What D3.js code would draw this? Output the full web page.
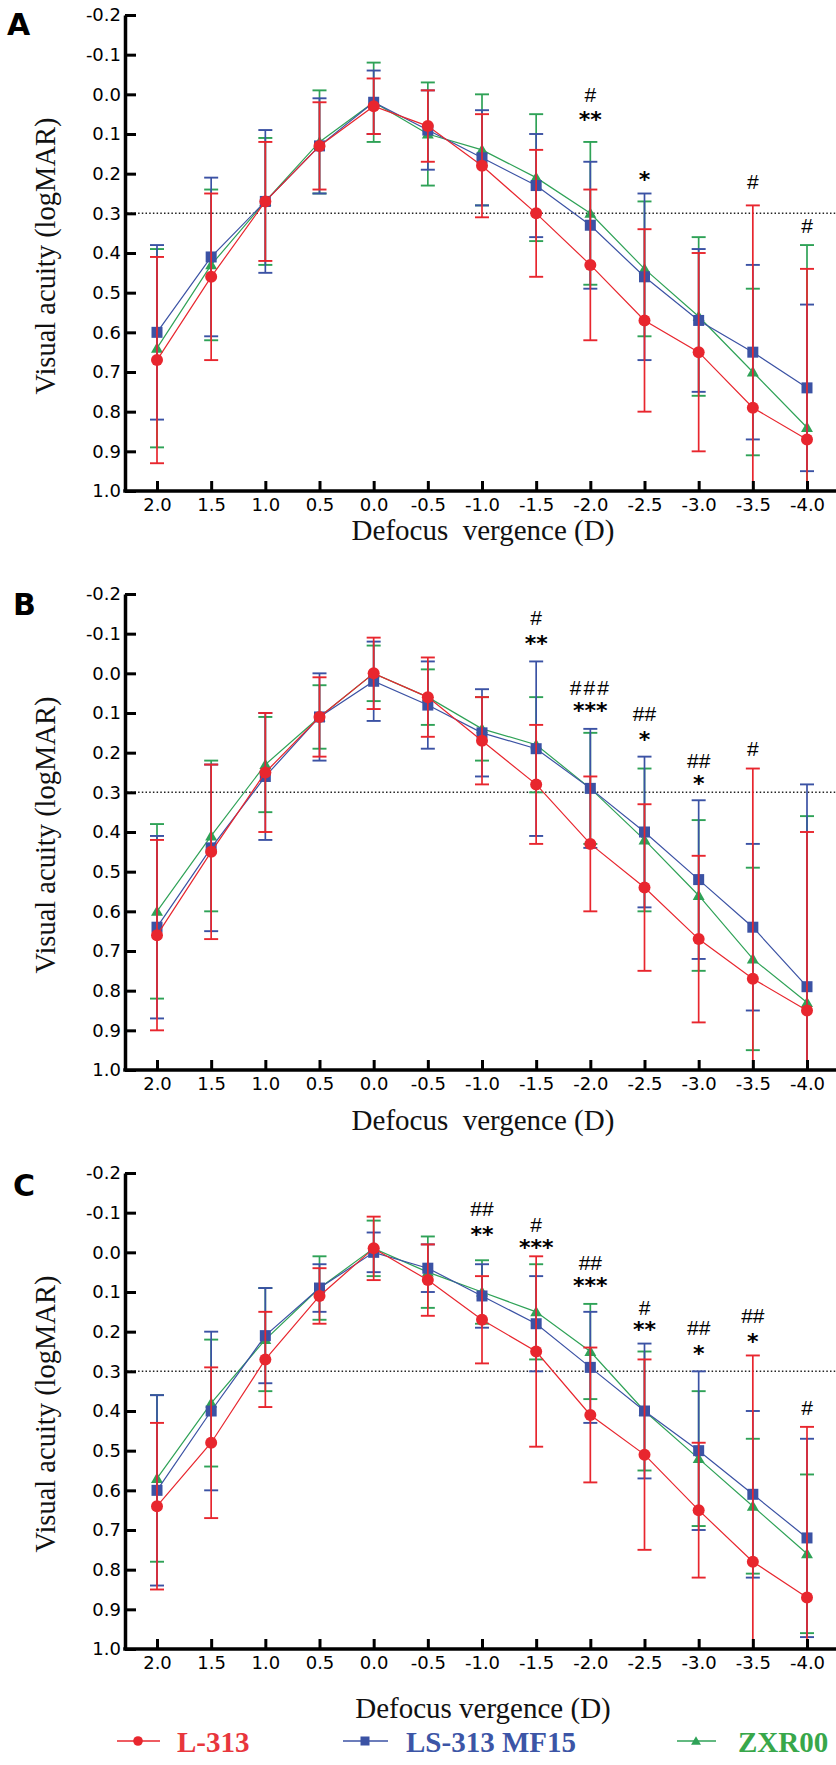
<!DOCTYPE html>
<html><head><meta charset="utf-8">
<script src="https://cdn.jsdelivr.net/npm/d3@7"></script>
<style>body{margin:0;background:#fff} svg{display:block}</style>
</head><body>
<svg id="chart" width="836" height="1765"></svg>
<script>
// ---------------- DATA ----------------
const defocus = ["2.0","1.5","1.0","0.5","0.0","-0.5","-1.0","-1.5","-2.0","-2.5","-3.0","-3.5","-4.0"];
const yTickValues = [-0.2,-0.1,0.0,0.1,0.2,0.3,0.4,0.5,0.6,0.7,0.8,0.9,1.0];
const seriesNames = ["ZXR00","LS-313 MF15","L-313"]; // drawing order (red on top)
const panelLetters = ["A","B","C"];
const xTitle = "Defocus vergence (D)";
const yTitle = "Visual acuity (logMAR)";
const threshold = 0.3;

// Panel A
const L313_A_mean = [0.67,0.46,0.27,0.13,0.03,0.08,0.18,0.30,0.43,0.57,0.65,0.79,0.87];
const L313_A_sd   = [0.26,0.21,0.15,0.11,0.07,0.09,0.13,0.16,0.19,0.23,0.25,0.51,0.43];
const MF15_A_mean = [0.60,0.41,0.27,0.13,0.02,0.09,0.16,0.23,0.33,0.46,0.57,0.65,0.74];
const MF15_A_sd   = [0.22,0.20,0.18,0.12,0.08,0.10,0.12,0.13,0.16,0.21,0.18,0.22,0.21];
const ZXR_A_mean  = [0.64,0.43,0.27,0.12,0.02,0.10,0.14,0.21,0.30,0.44,0.56,0.70,0.84];
const ZXR_A_sd    = [0.25,0.19,0.16,0.13,0.10,0.13,0.14,0.16,0.18,0.17,0.20,0.21,0.46];
const sigA_x    = ["-2.0","-2.0","-2.5","-3.5","-4.0"];
const sigA_text = ["#","**","*","#","#"];
const sigA_y    = [0.00,0.05,0.20,0.22,0.33];

// Panel B
const L313_B_mean = [0.66,0.45,0.25,0.11,0.00,0.06,0.17,0.28,0.43,0.54,0.67,0.77,0.85];
const L313_B_sd   = [0.24,0.22,0.15,0.10,0.09,0.10,0.11,0.15,0.17,0.21,0.21,0.53,0.45];
const MF15_B_mean = [0.64,0.44,0.26,0.11,0.02,0.08,0.15,0.19,0.29,0.40,0.52,0.64,0.79];
const MF15_B_sd   = [0.23,0.21,0.16,0.11,0.10,0.11,0.11,0.22,0.15,0.19,0.20,0.21,0.51];
const ZXR_B_mean  = [0.60,0.41,0.23,0.11,0.00,0.06,0.14,0.18,0.29,0.42,0.56,0.72,0.83];
const ZXR_B_sd    = [0.22,0.19,0.12,0.08,0.07,0.07,0.08,0.12,0.14,0.18,0.19,0.23,0.47];
const sigB_x    = ["-1.5","-1.5","-2.0","-2.0","-2.5","-2.5","-3.0","-3.0","-3.5"];
const sigB_text = ["#","**","###","***","##","*","##","*","#"];
const sigB_y    = [-0.14,-0.09,0.036,0.08,0.10,0.153,0.22,0.264,0.19];

// Panel C
const L313_C_mean = [0.64,0.48,0.27,0.11,-0.01,0.07,0.17,0.25,0.41,0.51,0.65,0.78,0.87];
const L313_C_sd   = [0.21,0.19,0.12,0.07,0.08,0.09,0.11,0.24,0.17,0.24,0.17,0.52,0.43];
const MF15_C_mean = [0.60,0.40,0.21,0.09,0.00,0.04,0.11,0.18,0.29,0.40,0.50,0.61,0.72];
const MF15_C_sd   = [0.24,0.20,0.12,0.06,0.05,0.06,0.08,0.12,0.14,0.17,0.20,0.21,0.25];
const ZXR_C_mean  = [0.57,0.38,0.22,0.09,-0.01,0.05,0.10,0.15,0.25,0.40,0.52,0.64,0.76];
const ZXR_C_sd    = [0.21,0.16,0.13,0.08,0.07,0.09,0.08,0.12,0.12,0.15,0.17,0.17,0.20];
const sigC_x    = ["-1.0","-1.0","-1.5","-1.5","-2.0","-2.0","-2.5","-2.5","-3.0","-3.0","-3.5","-3.5","-4.0"];
const sigC_text = ["##","**","#","***","##","***","#","**","##","*","##","*","#"];
const sigC_y    = [-0.11,-0.06,-0.07,-0.025,0.025,0.07,0.14,0.18,0.19,0.24,0.16,0.21,0.39];

// ---------------- STYLE / LAYOUT ----------------
const colorOf = {"L-313":"#e8262e","LS-313 MF15":"#3b52a4","ZXR00":"#2fa257"};
const legendColorOf = {"L-313":"#e8363c","LS-313 MF15":"#3c55a6","ZXR00":"#38a74a"};
const layout = [
  {top:15,  bottom:491,  letterY:35,   titleY:540,  spaced:true},
  {top:594, bottom:1070, letterY:615,  titleY:1130, spaced:true},
  {top:1173,bottom:1649, letterY:1196, titleY:1718, spaced:false}
];
const panelsData = [
  {means:{"L-313":L313_A_mean,"LS-313 MF15":MF15_A_mean,"ZXR00":ZXR_A_mean},
   sds:{"L-313":L313_A_sd,"LS-313 MF15":MF15_A_sd,"ZXR00":ZXR_A_sd},
   sx:sigA_x, st:sigA_text, sy:sigA_y},
  {means:{"L-313":L313_B_mean,"LS-313 MF15":MF15_B_mean,"ZXR00":ZXR_B_mean},
   sds:{"L-313":L313_B_sd,"LS-313 MF15":MF15_B_sd,"ZXR00":ZXR_B_sd},
   sx:sigB_x, st:sigB_text, sy:sigB_y},
  {means:{"L-313":L313_C_mean,"LS-313 MF15":MF15_C_mean,"ZXR00":ZXR_C_mean},
   sds:{"L-313":L313_C_sd,"LS-313 MF15":MF15_C_sd,"ZXR00":ZXR_C_sd},
   sx:sigC_x, st:sigC_text, sy:sigC_y}
];

const svg = d3.select("#chart");
const axisX0 = 125, axisXEnd = 836;
const x = d3.scalePoint().domain(defocus).range([157, 807]);
const capHalf = 7;

function marker(sel, name, cx, cy, small) {
  const c = colorOf[name];
  if (name === "L-313") {
    sel.append("circle").attr("cx", cx).attr("cy", cy).attr("r", small ? 4.8 : 6).attr("fill", c);
  } else if (name === "LS-313 MF15") {
    const s = small ? 9 : 11;
    sel.append("rect").attr("x", cx - s/2).attr("y", cy - s/2).attr("width", s).attr("height", s).attr("fill", c);
  } else {
    sel.append("path").attr("d", d3.symbol(d3.symbolTriangle, small ? 42 : 62)())
      .attr("transform", `translate(${cx},${cy + 1})`).attr("fill", c);
  }
}

panelsData.forEach((pd, pi) => {
  const L = layout[pi];
  const y = d3.scaleLinear().domain([-0.2, 1.0]).range([L.top, L.bottom]);
  const g = svg.append("g");

  const clipId = "clip" + pi;
  svg.append("defs").append("clipPath").attr("id", clipId)
    .append("rect").attr("x", axisX0).attr("y", L.top - 30).attr("width", axisXEnd - axisX0).attr("height", L.bottom - L.top + 30);

  g.append("line").attr("x1", axisX0 + 2).attr("x2", axisXEnd).attr("y1", y(threshold)).attr("y2", y(threshold))
    .attr("stroke", "#222").attr("stroke-width", 1.5).attr("stroke-dasharray", "1.5,2.2");

  const plot = g.append("g").attr("clip-path", `url(#${clipId})`);
  seriesNames.forEach(name => {
    const m = pd.means[name], sd = pd.sds[name], c = colorOf[name];
    const sg = plot.append("g");
    defocus.forEach((d, i) => {
      const cx = x(d), yh = y(m[i] - sd[i]), yl = y(m[i] + sd[i]);
      sg.append("line").attr("x1", cx).attr("x2", cx).attr("y1", yh).attr("y2", yl).attr("stroke", c).attr("stroke-width", 1.7);
      [yh, yl].forEach(yy => sg.append("line").attr("x1", cx - capHalf).attr("x2", cx + capHalf)
        .attr("y1", yy).attr("y2", yy).attr("stroke", c).attr("stroke-width", 1.9));
    });
    sg.append("path").datum(m)
      .attr("d", d3.line().x((v, i) => x(defocus[i])).y(v => y(v)))
      .attr("fill", "none").attr("stroke", c).attr("stroke-width", 1.2);
    defocus.forEach((d, i) => marker(sg, name, x(d), y(m[i]), false));
  });

  const yAxis = d3.axisLeft(y).tickValues(yTickValues).tickSize(-11).tickSizeOuter(0).tickPadding(4)
    .tickFormat(d => d.toFixed(1));
  const ya = g.append("g").attr("transform", `translate(${axisX0},0)`).call(yAxis);
  ya.select(".domain").attr("stroke", "#000").attr("stroke-width", 3.5);
  ya.selectAll(".tick line").attr("stroke", "#000").attr("stroke-width", 3);
  ya.selectAll(".tick text").attr("font-family", "DejaVu Sans").attr("font-size", 18).attr("fill", "#000");

  const xAxis = d3.axisBottom(x).tickSize(-10).tickSizeOuter(0).tickPadding(7);
  const xa = g.append("g").attr("transform", `translate(0,${L.bottom})`).call(xAxis);
  xa.select(".domain").remove();
  xa.selectAll(".tick line").attr("stroke", "#000").attr("stroke-width", 3);
  xa.selectAll(".tick text").attr("font-family", "DejaVu Sans").attr("font-size", 18).attr("fill", "#000");
  g.append("line").attr("x1", axisX0 - 1.75).attr("x2", axisXEnd).attr("y1", L.bottom).attr("y2", L.bottom)
    .attr("stroke", "#000").attr("stroke-width", 3.5);

  pd.st.forEach((t, i) => {
    const cx = x(pd.sx[i]), cy = y(pd.sy[i]);
    const isStar = t.indexOf("*") >= 0;
    g.append("text").attr("x", cx).attr("y", isStar ? cy + 13 : cy + 7.5)
      .attr("text-anchor", "middle")
      .attr("font-family", isStar ? "DejaVu Sans" : "Liberation Sans")
      .attr("font-weight", isStar ? "bold" : "normal")
      .attr("font-size", isStar ? 22 : 21)
      .attr("letter-spacing", (t === "###") ? 2 : 0)
      .attr("fill", "#000").text(t);
  });

  g.append("text").attr("x", pi === 0 ? 7 : 13).attr("y", L.letterY)
    .attr("font-family", "DejaVu Sans").attr("font-weight", "bold").attr("font-size", 30).attr("fill", "#000")
    .text(panelLetters[pi]);

  g.append("text").attr("transform", `translate(55,${(L.top + L.bottom) / 2 + 3}) rotate(-90)`)
    .attr("text-anchor", "middle").attr("font-family", "Liberation Serif").attr("font-size", 28.5).attr("fill", "#111")
    .text(yTitle);
  g.append("text").attr("x", 483).attr("y", L.titleY).attr("text-anchor", "middle")
    .attr("font-family", "Liberation Serif").attr("font-size", 29).attr("fill", "#111")
    .style("white-space", "pre")
    .text(L.spaced ? xTitle.replace(" ", "\u00a0 ") : xTitle);
});

const legendItems = ["L-313","LS-313 MF15","ZXR00"];
const legendPos = [{x1:117,x2:160,m:138,t:177},{x1:343,x2:388,m:365,t:406},{x1:677,x2:716,m:696,t:738}];
const ly = 1741;
const lg = svg.append("g");
legendItems.forEach((name, i) => {
  const p = legendPos[i];
  lg.append("line").attr("x1", p.x1).attr("x2", p.x2).attr("y1", ly).attr("y2", ly)
    .attr("stroke", colorOf[name]).attr("stroke-width", 1.4);
  marker(lg, name, p.m, ly, true);
  lg.append("text").attr("x", p.t).attr("y", ly + 11).attr("font-family", "Liberation Serif")
    .attr("font-weight", "bold").attr("font-size", 29).attr("fill", legendColorOf[name]).text(name);
});
</script>
</body></html>
